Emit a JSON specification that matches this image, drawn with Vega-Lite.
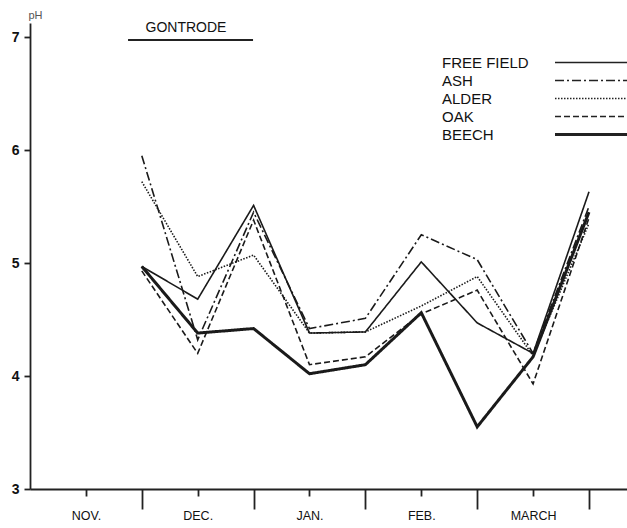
{
  "$schema": "https://vega.github.io/schema/vega-lite/v6.json",
  "width": 597,
  "height": 466,
  "autosize": {"type": "none"},
  "padding": {"left": 30, "top": 23, "right": 0, "bottom": 39},
  "background": "white",
  "config": {
    "view": {"stroke": null},
    "font": "Liberation Sans",
    "axis": {"grid": false, "domainColor": "#222", "tickColor": "#222", "labelColor": "#111", "domainWidth": 1.8, "tickWidth": 1.8}
  },
  "datasets": {
    "ph": [
      {"series": "FREE FIELD", "t": 1, "ph": 4.97},
      {"series": "FREE FIELD", "t": 1.5, "ph": 4.68},
      {"series": "FREE FIELD", "t": 2, "ph": 5.51},
      {"series": "FREE FIELD", "t": 2.5, "ph": 4.38},
      {"series": "FREE FIELD", "t": 3, "ph": 4.39},
      {"series": "FREE FIELD", "t": 3.5, "ph": 5.01},
      {"series": "FREE FIELD", "t": 4, "ph": 4.47},
      {"series": "FREE FIELD", "t": 4.5, "ph": 4.2},
      {"series": "FREE FIELD", "t": 5, "ph": 5.63},
      {"series": "ASH", "t": 1, "ph": 5.95},
      {"series": "ASH", "t": 1.5, "ph": 4.32},
      {"series": "ASH", "t": 2, "ph": 5.45},
      {"series": "ASH", "t": 2.5, "ph": 4.42},
      {"series": "ASH", "t": 3, "ph": 4.51},
      {"series": "ASH", "t": 3.5, "ph": 5.25},
      {"series": "ASH", "t": 4, "ph": 5.03},
      {"series": "ASH", "t": 4.5, "ph": 4.2},
      {"series": "ASH", "t": 5, "ph": 5.5},
      {"series": "ALDER", "t": 1, "ph": 5.72},
      {"series": "ALDER", "t": 1.5, "ph": 4.88},
      {"series": "ALDER", "t": 2, "ph": 5.07},
      {"series": "ALDER", "t": 2.5, "ph": 4.38},
      {"series": "ALDER", "t": 3, "ph": 4.39},
      {"series": "ALDER", "t": 3.5, "ph": 4.62},
      {"series": "ALDER", "t": 4, "ph": 4.88},
      {"series": "ALDER", "t": 4.5, "ph": 4.18},
      {"series": "ALDER", "t": 5, "ph": 5.35},
      {"series": "OAK", "t": 1, "ph": 4.93},
      {"series": "OAK", "t": 1.5, "ph": 4.2},
      {"series": "OAK", "t": 2, "ph": 5.38},
      {"series": "OAK", "t": 2.5, "ph": 4.1},
      {"series": "OAK", "t": 3, "ph": 4.17},
      {"series": "OAK", "t": 3.5, "ph": 4.55},
      {"series": "OAK", "t": 4, "ph": 4.76},
      {"series": "OAK", "t": 4.5, "ph": 3.93},
      {"series": "OAK", "t": 5, "ph": 5.4},
      {"series": "BEECH", "t": 1, "ph": 4.97},
      {"series": "BEECH", "t": 1.5, "ph": 4.38},
      {"series": "BEECH", "t": 2, "ph": 4.42},
      {"series": "BEECH", "t": 2.5, "ph": 4.02},
      {"series": "BEECH", "t": 3, "ph": 4.1},
      {"series": "BEECH", "t": 3.5, "ph": 4.56},
      {"series": "BEECH", "t": 4, "ph": 3.55},
      {"series": "BEECH", "t": 4.5, "ph": 4.17},
      {"series": "BEECH", "t": 5, "ph": 5.45}
    ]
  },
  "layer": [
    {
      "data": {"name": "ph"},
      "mark": {"type": "line", "color": "#1a1a1a", "strokeJoin": "miter"},
      "encoding": {
        "x": {
          "field": "t", "type": "quantitative",
          "scale": {"domain": [0, 5.34], "nice": false, "zero": false},
          "axis": {"orient": "bottom", "values": [0.5, 1.5, 2.5, 3.5, 4.5], "title": null, "tickSize": 7, "labelPadding": 13, "labelFontSize": 12.5,
            "labelExpr": "datum.value == 0.5 ? 'NOV.' : datum.value == 1.5 ? 'DEC.' : datum.value == 2.5 ? 'JAN.' : datum.value == 3.5 ? 'FEB.' : 'MARCH'"}
        },
        "y": {
          "field": "ph", "type": "quantitative",
          "scale": {"domain": [3, 7.124], "nice": false, "zero": false},
          "axis": {"orient": "left", "values": [3, 4, 5, 6, 7], "title": "pH", "titleAngle": 0, "titleX": 5, "titleY": -8, "titleAlign": "center", "titleBaseline": "middle",
            "titleFontSize": 11, "titleFontWeight": "normal", "titleColor": "#555", "tickSize": 6, "labelPadding": 5, "labelFontSize": 14, "labelFontWeight": "bold"}
        },
        "strokeDash": {
          "field": "series", "type": "ordinal",
          "scale": {"domain": ["FREE FIELD", "ASH", "ALDER", "OAK", "BEECH"], "range": [[1, 0], [9, 3, 2, 3], [1.5, 1.5], [6, 3], [1, 0]]},
          "legend": {"orient": "none", "legendX": 555, "legendY": 32, "title": null, "symbolType": "stroke", "symbolSize": 100,
            "labelOffset": -158, "labelFontSize": 15, "labelColor": "#111", "rowPadding": 2, "padding": 0,
            "symbolStrokeColor": "#222", "labelLimit": 300,
            "encode": {"symbols": {"update": {"size": {"value": 5625}, "strokeWidth": {"signal": "datum.value == 'BEECH' ? 3 : 1.6"}}}}}
        },
        "strokeWidth": {"condition": {"test": "datum.series == 'BEECH'", "value": 3}, "value": 1.6}
      }
    },
    {
      "data": {"values": [{}]},
      "mark": {"type": "rule", "color": "#222", "strokeWidth": 2},
      "encoding": {
        "x": {"datum": 0.877, "type": "quantitative", "axis": {"orient": "bottom", "values": [1, 2, 3, 4, 5], "title": null, "tickSize": 20, "labels": false, "domain": false}},
        "x2": {"datum": 1.995},
        "y": {"datum": 6.973, "type": "quantitative", "axis": null}
      }
    },
    {
      "data": {"values": [{}]},
      "mark": {"type": "text", "color": "#111", "fontSize": 14, "align": "center", "baseline": "middle"},
      "encoding": {
        "x": {"datum": 1.395, "type": "quantitative", "axis": null},
        "y": {"datum": 7.08, "type": "quantitative", "axis": null},
        "text": {"value": "GONTRODE"}
      }
    }
  ],
  "resolve": {"axis": {"x": "independent", "y": "independent"}}
}
